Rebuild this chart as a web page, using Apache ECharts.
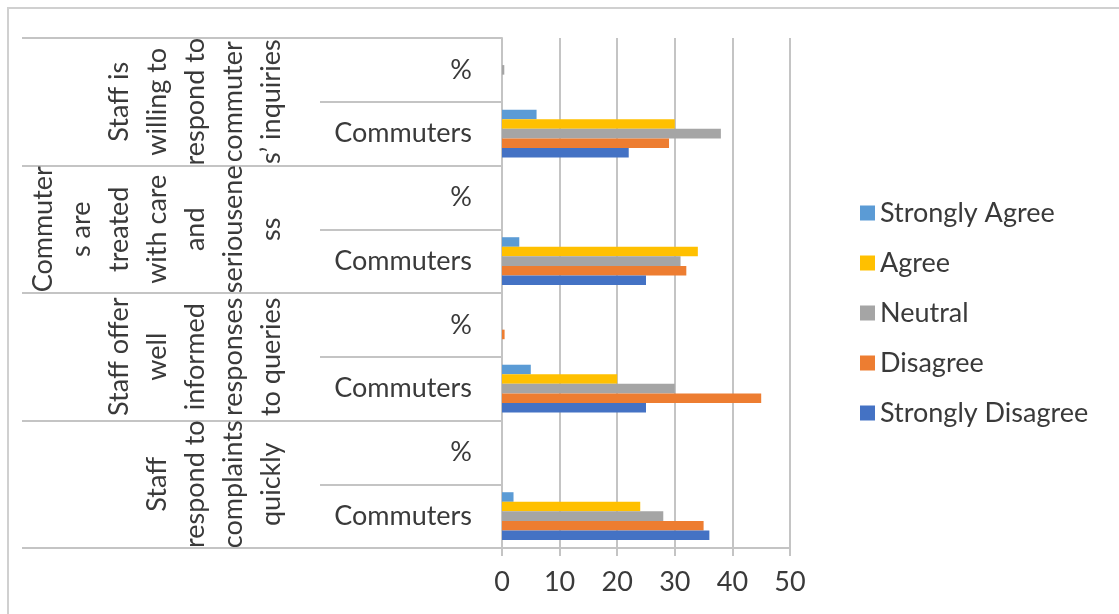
<!DOCTYPE html>
<html>
<head>
<meta charset="utf-8">
<script src="https://cdn.jsdelivr.net/npm/echarts@6/dist/echarts.min.js"></script>
<style>
  html, body { margin: 0; padding: 0; background: #ffffff; }
  #chart { width: 1119px; height: 614px; }
</style>
</head>
<body>
<div id="chart"></div>
<script>
// Survey statements, bottom to top
const groups = [
  'Staff\nrespond to\ncomplaints\nquickly',
  'Staff offer\nwell\ninformed\nresponses\nto queries',
  'Commuter\ns are\ntreated\nwith care\nand\nseriousene\nss',
  'Staff is\nwilling to\nrespond to\ncommuter\ns\u2019 inquiries'
];

// Two rows per statement: counts of commuters, then the percentage row
const rows = ['Commuters', '%', 'Commuters', '%', 'Commuters', '%', 'Commuters', '%'];

const seriesNames = ['Strongly Agree', 'Agree', 'Neutral', 'Disagree', 'Strongly Disagree'];
const seriesColors = ['#5B9BD5', '#FFC000', '#A5A5A5', '#ED7D31', '#4472C4'];

// Values per row (same order as rows)
const stronglyAgree    = [2,  0, 5,  0,    3,  0, 6,  0];
const agree            = [24, 0, 20, 0,    34, 0, 30, 0];
const neutral          = [28, 0, 30, 0,    31, 0, 38, 0.4];
const disagree         = [35, 0, 45, 0.45, 32, 0, 29, 0];
const stronglyDisagree = [36, 0, 25, 0,    25, 0, 22, 0];

const valueTicks = { min: 0, max: 50, interval: 10 };

const seriesData = [stronglyAgree, agree, neutral, disagree, stronglyDisagree];

const font = 'Lato';
const textColor = '#3a3a3a';
const lineColor = '#c4c4c4';

const chart = echarts.init(document.getElementById('chart'));

chart.setOption({
  backgroundColor: '#ffffff',
  animation: false,
  graphic: [{
    type: 'rect',
    shape: { x: 8, y: 8, width: 1130, height: 630 },
    style: { fill: 'none', stroke: '#d0d0d0', lineWidth: 2 },
    silent: true
  }],
  legend: {
    orient: 'vertical',
    left: 855,
    top: 193,
    itemWidth: 15,
    itemHeight: 15,
    itemGap: 20,
    icon: 'rect',
    data: seriesNames,
    textStyle: { fontFamily: font, fontSize: 27, color: textColor, lineHeight: 30 }
  },
  grid: { left: 502, right: 329, top: 38, bottom: 66 },
  xAxis: {
    type: 'value',
    min: valueTicks.min,
    max: valueTicks.max,
    interval: valueTicks.interval,
    axisLine: { show: true, lineStyle: { color: lineColor, width: 2 } },
    axisTick: { show: true, length: 8, lineStyle: { color: lineColor, width: 2 } },
    splitLine: { show: true, lineStyle: { color: lineColor, width: 2 } },
    axisLabel: { fontFamily: font, fontSize: 27, color: textColor, margin: 21 }
  },
  yAxis: [{
    type: 'category',
    data: rows,
    position: 'left',
    axisLine: { show: true, lineStyle: { color: lineColor, width: 2 } },
    axisTick: { show: true, length: 182, lineStyle: { color: lineColor, width: 2 } },
    axisLabel: { interval: 0, fontFamily: font, fontSize: 27, color: textColor, margin: 30 }
  }, {
    type: 'category',
    data: groups,
    position: 'left',
    offset: 182,
    axisLine: { show: false },
    axisTick: { show: true, length: 298, lineStyle: { color: lineColor, width: 2 } },
    axisLabel: {
      interval: 0, rotate: 90, margin: 30,
      fontFamily: font, fontSize: 27, lineHeight: 38, color: textColor
    }
  }],
  series: seriesNames.map((name, i) => ({
    name: name,
    type: 'bar',
    yAxisIndex: 0,
    data: seriesData[i],
    barGap: '0%',
    barCategoryGap: '25%',
    itemStyle: { color: seriesColors[i] }
  }))
});
</script>
</body>
</html>
